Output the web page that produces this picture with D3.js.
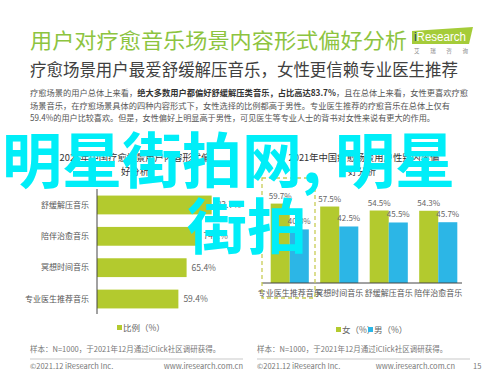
<!DOCTYPE html>
<html><head><meta charset="utf-8">
<script src="https://cdn.jsdelivr.net/npm/d3@7"></script>
<style>
html,body{margin:0;padding:0;background:#fff;}
svg{display:block;font-family:"Noto Sans CJK SC","Noto Sans",sans-serif;}
</style></head>
<body>
<svg id="c" width="498" height="374"></svg>
<script>
// ---- data ----
const leftCategories = ["舒缓解压音乐","陪伴治愈音乐","冥想时间音乐","专业医生推荐音乐"];
const leftValues = [83.7, 74.1, 65.4, 59.4];
const rightCategories = ["专业医生推荐音乐","冥想时间音乐","舒缓解压音乐","陪伴治愈音乐"];
const femaleValues = [59.7, 57.5, 54.5, 54.3];
const maleValues = [40.3, 42.5, 45.5, 45.7];
const seriesNames = ["女（%）","男（%）"];
const leftLegend = ["比例（%）"];

const GREEN = "#b3ca2e", BLUE = "#2cb6e6";
const svg = d3.select("#c");

// ---- header ----
svg.append("text").attr("x",30).attr("y",48).attr("font-size",21).attr("fill","#8dc43f")
  .attr("textLength",377).attr("lengthAdjust","spacingAndGlyphs")
  .text("用户对疗愈音乐场景内容形式偏好分析");
svg.append("text").attr("x",30).attr("y",76).attr("font-size",17).attr("fill","#404040")
  .attr("textLength",428).attr("lengthAdjust","spacingAndGlyphs")
  .text("疗愈场景用户最爱舒缓解压音乐，女性更信赖专业医生推荐");

// logo
svg.append("path").attr("d","M412,31 L473,27 L469,44 L412,44 Z").attr("fill","#a5cc39");
svg.append("text").attr("x",414).attr("y",41).attr("font-size",12).attr("fill","#fff")
  .attr("font-family","Liberation Sans, Arial, sans-serif")
  .attr("textLength",52).attr("lengthAdjust","spacingAndGlyphs")
  .html('<tspan fill="#1d3f6e">i</tspan>Research');
svg.append("text").attr("x",414).attr("y",53).attr("font-size",5.5).attr("fill","#888")
  .attr("textLength",54).text("艾 瑞 咨 询");

// paragraph
const p = svg.append("g").attr("font-size",8.5).attr("fill","#555");
const l1 = p.append("text").attr("x",30).attr("y",96).attr("textLength",438).attr("lengthAdjust","spacingAndGlyphs");
l1.append("tspan").text("疗愈场景的用户总体上来看，");
l1.append("tspan").attr("font-weight","bold").attr("fill","#333").text("绝大多数用户都偏好舒缓解压类音乐，占比高达83.7%");
l1.append("tspan").text("，且在总体上来看，女性更喜欢疗愈");
p.append("text").attr("x",30).attr("y",109).attr("textLength",420).attr("lengthAdjust","spacingAndGlyphs")
  .text("场景音乐，在疗愈场景具体的四种内容形式下，女性选择的比例都高于男性。专业医生推荐的疗愈音乐在总体上仅有");
p.append("text").attr("x",30).attr("y",121).attr("textLength",405).attr("lengthAdjust","spacingAndGlyphs")
  .text("59.4%的用户比较喜欢。但是，女性偏好上明显高于男性，可见医生等专业人士的背书对女性来说有更大的作用。");

// chart titles
const tt = svg.append("g").attr("font-size",9.3).attr("fill","#333").attr("text-anchor","middle");
tt.append("text").attr("x",135).attr("y",161).text("2021年中国疗愈场景用户内容形式偏");
tt.append("text").attr("x",135).attr("y",175).text("好分析");
tt.append("text").attr("x",364).attr("y",161).text("2021年中国疗愈场景用户性别内容偏");
tt.append("text").attr("x",362).attr("y",175).text("好分析");

// ---- left chart ----
const xL = d3.scaleLinear().domain([0,100]).range([97,234]);
const yL = d3.scaleBand().domain(leftCategories).range([189.3,314.7]).paddingInner(0.4).paddingOuter(0.2);
const gl = svg.append("g");
gl.selectAll("rect").data(leftValues).join("rect")
  .attr("x",xL(0)).attr("y",(d,i)=>yL(leftCategories[i]))
  .attr("width",d=>xL(d)-xL(0)).attr("height",yL.bandwidth()).attr("fill",GREEN);
gl.selectAll("text.v").data(leftValues).join("text").attr("class","v")
  .attr("x",d=>xL(d)+5).attr("y",(d,i)=>yL(leftCategories[i])+yL.bandwidth()/2+3)
  .attr("font-size",8.5).attr("fill","#666").text(d=>d.toFixed(1)+"%");
const axL = gl.append("g").attr("transform",`translate(${xL(0)},0)`)
  .call(d3.axisLeft(yL).tickSize(0).tickPadding(8));
axL.select(".domain").attr("stroke","#444").attr("d","M0,189V314");
axL.selectAll("text").attr("font-size",8).attr("fill","#555").attr("font-family","Noto Sans CJK SC");

// left legend
svg.append("rect").attr("x",117).attr("y",325).attr("width",5).attr("height",5).attr("fill",GREEN);
svg.append("text").attr("x",123).attr("y",331).attr("font-size",8.5).attr("fill","#666").text(leftLegend[0]);

// ---- right chart ----
const xR = d3.scaleBand().domain(rightCategories).range([265,463]).paddingInner(0.23).paddingOuter(0.115);
const xS = d3.scaleBand().domain([0,1]).range([0,xR.bandwidth()]);
const yR = d3.scaleLinear().domain([0,100]).range([283,150]);
const gr = svg.append("g");
const grp = gr.selectAll("g.grp").data(rightCategories).join("g").attr("class","grp")
  .attr("transform",d=>`translate(${xR(d)},0)`);
grp.each(function(c,i){
  const g = d3.select(this);
  [femaleValues[i], maleValues[i]].forEach((v,s)=>{
    g.append("rect").attr("x",xS(s)).attr("y",yR(v)).attr("width",xS.bandwidth())
      .attr("height",yR(0)-yR(v)).attr("fill",s===0?GREEN:BLUE);
    g.append("text").attr("x",xS(s)+xS.bandwidth()/2).attr("y",yR(v)-5)
      .attr("text-anchor","middle").attr("font-size",8).attr("fill","#666").text(v.toFixed(1)+"%");
  });
});
const axR = gr.append("g").attr("transform",`translate(0,${yR(0)})`)
  .call(d3.axisBottom(xR).tickSize(0).tickPadding(7));
axR.select(".domain").attr("stroke","#444").attr("d","M262,0H462");
axR.selectAll("text").attr("font-size",8).attr("fill","#555").attr("font-family","Noto Sans CJK SC");

// dashed highlight
svg.append("rect").attr("x",262).attr("y",178).attr("width",53).attr("height",120)
  .attr("fill","none").attr("stroke","#c8cc55").attr("stroke-width",1.3).attr("stroke-dasharray","4,3");

// right legend
const lg = svg.append("g").attr("font-size",8.5).attr("fill","#666");
[[336,GREEN],[368,BLUE]].forEach(([x,c],i)=>{
  lg.append("rect").attr("x",x).attr("y",327).attr("width",5).attr("height",5).attr("fill",c);
  lg.append("text").attr("x",x+6).attr("y",333).text(seriesNames[i]);
});

// ---- footers ----
const f = svg.append("g").attr("font-size",7.5).attr("fill","#777");
[[30,243],[257,470]].forEach(([a,b])=>{
  f.append("text").attr("x",a).attr("y",352).text("样本：N=1000，于2021年12月通过iClick社区调研获得。");
  svg.append("line").attr("x1",a).attr("x2",b).attr("y1",359).attr("y2",359).attr("stroke","#bbb").attr("stroke-width",0.8);
  f.append("text").attr("x",a).attr("y",369).text("©2021.12 iResearch Inc.");
});
f.append("text").attr("x",243).attr("y",369).attr("text-anchor","end").text("www.iresearch.com.cn");
f.append("text").attr("x",455).attr("y",369).attr("text-anchor","end").text("www.iresearch.com.cn");
f.append("text").attr("x",473).attr("y",369).text("15");

// ---- watermark ----
const wm = svg.append("g").attr("font-size",60).attr("font-weight","bold").attr("fill","#00eef8")
  .attr("font-family","Noto Sans CJK SC");
wm.append("text").attr("x",2).attr("y",183).text("明星街拍网, 明星");
wm.append("text").attr("x",187).attr("y",249).text("街拍");
</script>
</body></html>
